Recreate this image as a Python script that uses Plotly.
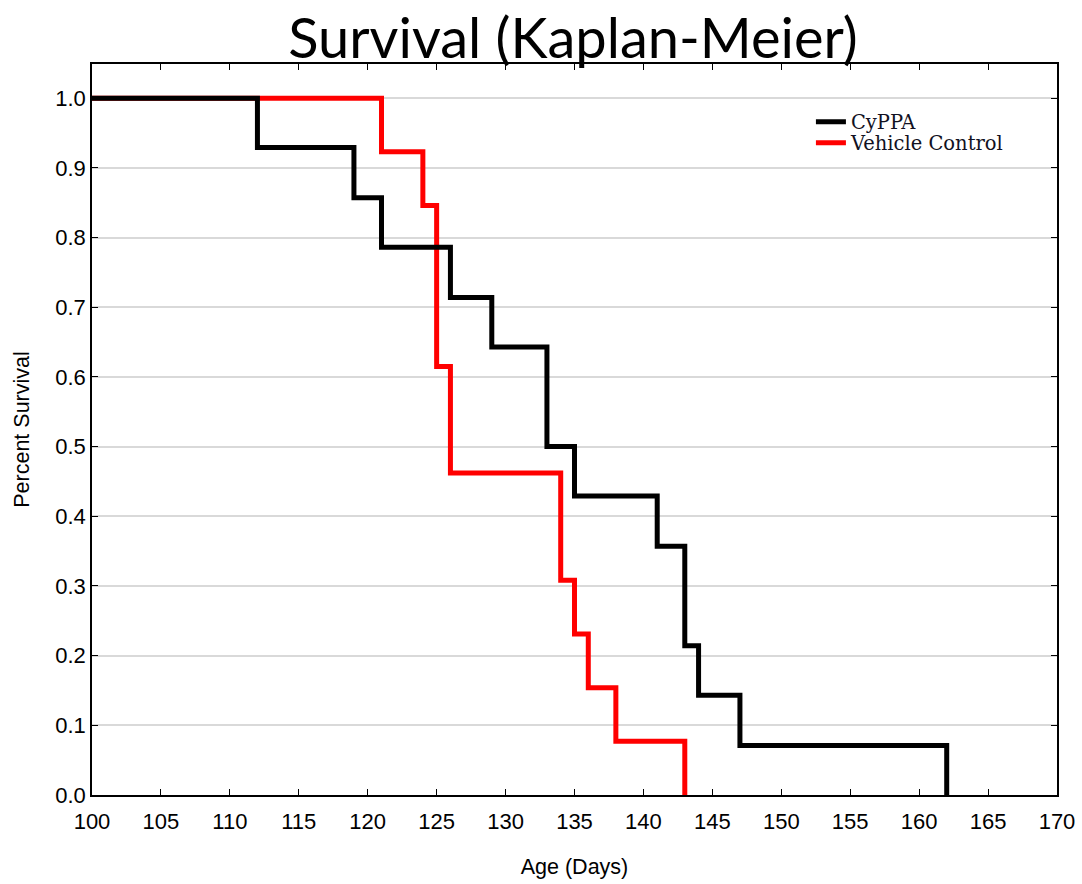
import plotly.graph_objects as go

# CyPPA group (n=14)
cyppa_days = [100, 112, 119, 121, 126, 129, 133, 135, 141, 143, 144, 147, 162]
cyppa_surv = [1.0, 0.929, 0.857, 0.786, 0.714, 0.643, 0.500, 0.429, 0.357, 0.214, 0.143, 0.071, 0.0]

# Vehicle control group (n=13)
veh_days = [100, 121, 124, 125, 126, 134, 135, 136, 138, 143]
veh_surv = [1.0, 0.923, 0.846, 0.615, 0.462, 0.308, 0.231, 0.154, 0.077, 0.0]

x_ticks = list(range(100, 171, 5))
y_ticks = [round(i * 0.1, 1) for i in range(11)]

SANS = "Liberation Sans, Arial, sans-serif"
SERIF = "DejaVu Serif, Liberation Serif, serif"

fig = go.Figure()
fig.add_trace(go.Scatter(x=veh_days, y=veh_surv, mode="lines", line_shape="hv",
                         line=dict(color="#ff0000", width=5), name="Vehicle Control",
                         legend="legend2"))
fig.add_trace(go.Scatter(x=cyppa_days, y=cyppa_surv, mode="lines", line_shape="hv",
                         line=dict(color="#000000", width=5), name="CyPPA",
                         legend="legend"))

legend_style = dict(xanchor="left", yanchor="middle", bgcolor="rgba(0,0,0,0)",
                    font=dict(family=SERIF, size=19.5, color="#111122"))
fig.update_layout(
    width=1082, height=884,
    margin=dict(l=92, r=25, t=64, b=89),
    paper_bgcolor="white", plot_bgcolor="white",
    title=dict(text="Survival (Kaplan-Meier)", x=0.5295, xanchor="center", y=0.957, yanchor="middle",
               font=dict(family="Lato, Open Sans, sans-serif", size=56, color="black")),
    legend=dict(x=0.745, y=0.9207, **legend_style),
    legend2=dict(x=0.745, y=0.8919, **legend_style),
    showlegend=True,
)
fig.update_xaxes(range=[100, 170], tickvals=x_ticks, ticktext=[str(v) for v in x_ticks],
                 automargin=False,
                 showgrid=False, zeroline=False, showline=True, linecolor="black", linewidth=1.5,
                 mirror="ticks", ticks="inside", ticklen=6, tickcolor="black",
                 ticklabelstandoff=6,
                 tickfont=dict(family=SANS, size=22, color="black"),
                 title=dict(text="Age (Days)", standoff=26,
                            font=dict(family=SANS, size=21.5, color="black")))
fig.update_yaxes(range=[0, 1.049], tickvals=y_ticks, ticktext=[f"{v:.1f}" for v in y_ticks],
                 automargin=False,
                 showgrid=True, gridcolor="#d9d9d9", gridwidth=1.5, zeroline=False,
                 showline=True, linecolor="black", linewidth=1.5,
                 mirror="ticks", ticks="inside", ticklen=6, tickcolor="black",
                 tickfont=dict(family=SANS, size=22, color="black"),
                 title=dict(text="Percent Survival", standoff=20,
                            font=dict(family=SANS, size=21.5, color="black")))

fig.write_html("out.html")
